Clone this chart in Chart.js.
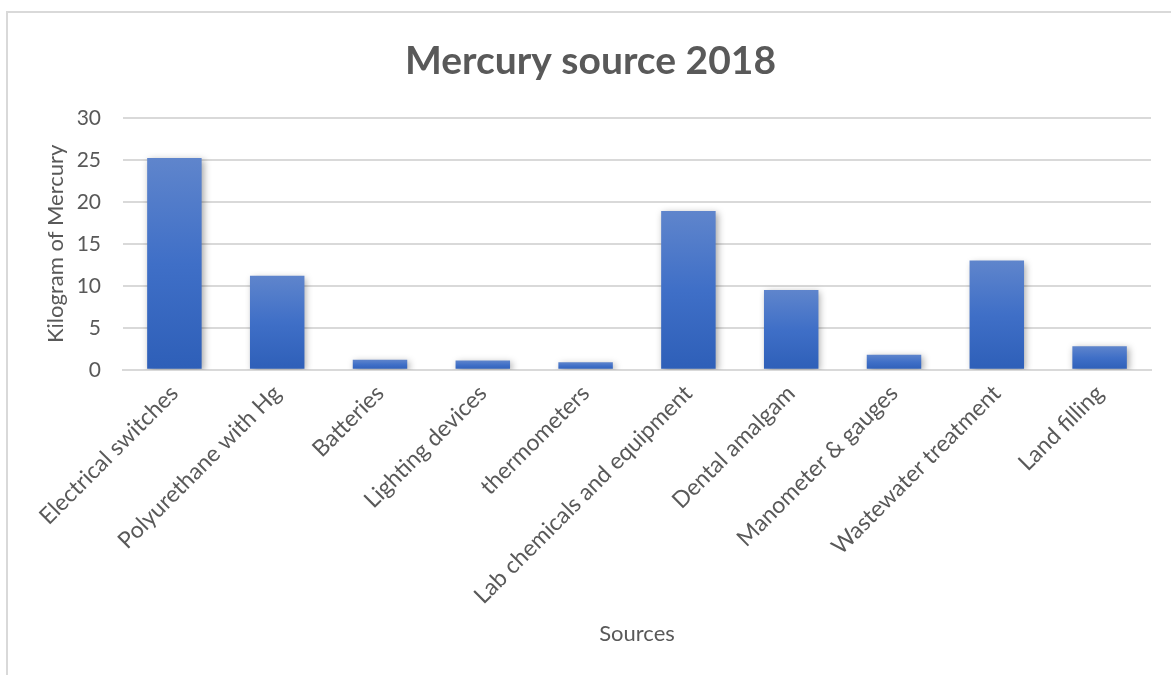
<!DOCTYPE html>
<html lang="en">
<head>
    <title>Mercury source 2018</title>
    <meta charset="utf-8">
    <script src="https://cdn.jsdelivr.net/npm/chart.js@4.4.0/dist/chart.umd.js"></script>
    <style>
        html, body { margin: 0; padding: 0; background: #fff; overflow: hidden; }
        #frame {
            position: absolute; left: 6px; top: 11px;
            width: 1200px; height: 700px;
            border: 2px solid #d9d9d9; box-sizing: border-box;
        }
        #wrap { position: absolute; left: 0; top: 0; width: 1171px; height: 675px; }
    </style>
</head>
<body>
    <div id="frame"></div>
    <div id="wrap"><canvas id="hgChart" width="1171" height="675"></canvas></div>

    <script>
        // Data
        const sources = [
            'Electrical switches', 'Polyurethane with Hg', 'Batteries', 'Lighting devices',
            'thermometers', 'Lab chemicals and equipment', 'Dental amalgam',
            'Manometer & gauges', 'Wastewater treatment', 'Land filling'
        ];
        const kgMercury = [25.2, 11.2, 1.2, 1.1, 0.9, 18.9, 9.5, 1.8, 13.0, 2.8];
        const yTicks = [0, 5, 10, 15, 20, 25, 30];

        const textColor = '#595959';
        const fontFamily = 'Lato, "Open Sans", sans-serif';

        // vertical gradient per bar, light at top, dark at bottom
        function barFill(context) {
            const chart = context.chart;
            const y = chart.scales.y;
            if (!chart.chartArea || !y || context.parsed === undefined) return '#4472C4';
            const top = y.getPixelForValue(context.parsed.y);
            const bottom = y.getPixelForValue(0);
            if (!isFinite(top) || !isFinite(bottom) || top === bottom) return '#4472C4';
            const g = chart.ctx.createLinearGradient(0, top, 0, bottom);
            g.addColorStop(0, '#5F85CC');
            g.addColorStop(0.5, '#3F6FC7');
            g.addColorStop(1, '#2E5FB8');
            return g;
        }

        // soft shadow behind the bars
        const barShadow = {
            id: 'barShadow',
            beforeDatasetsDraw(chart) {
                const c = chart.ctx;
                c.save();
                c.shadowColor = 'rgba(0,0,0,0.35)';
                c.shadowBlur = 7;
                c.shadowOffsetX = 2;
                c.shadowOffsetY = 2;
            },
            afterDatasetsDraw(chart) {
                chart.ctx.restore();
            }
        };

        const ctx = document.getElementById('hgChart').getContext('2d');
        new Chart(ctx, {
            type: 'bar',
            data: {
                labels: sources,
                datasets: [{
                    label: 'Kilogram of Mercury',
                    data: kgMercury,
                    backgroundColor: barFill,
                    borderWidth: 0,
                    categoryPercentage: 1.0,
                    barPercentage: 0.53
                }]
            },
            options: {
                responsive: false,
                animation: false,
                layout: { padding: { left: 30, right: 20, top: 22, bottom: 24 } },
                plugins: {
                    legend: { display: false },
                    tooltip: { enabled: false },
                    title: {
                        display: true,
                        text: 'Mercury source 2018',
                        color: textColor,
                        font: { family: fontFamily, size: 39, weight: 'bold' },
                        padding: { top: 16, bottom: 33 }
                    }
                },
                scales: {
                    x: {
                        grid: { display: false },
                        border: { color: '#d9d9d9', width: 2 },
                        ticks: {
                            color: textColor,
                            font: { family: fontFamily, size: 23 },
                            minRotation: 45,
                            maxRotation: 45,
                            padding: 2
                        },
                        title: {
                            display: true,
                            text: 'Sources',
                            color: textColor,
                            font: { family: fontFamily, size: 22 },
                            padding: { top: 9 }
                        }
                    },
                    y: {
                        min: 0,
                        max: 30,
                        afterBuildTicks(axis) { axis.ticks = yTicks.map(v => ({ value: v })); },
                        afterFit(axis) { axis.width = 93; },
                        grid: { color: '#d9d9d9', lineWidth: 2, drawTicks: false },
                        border: { display: false },
                        ticks: {
                            color: textColor,
                            font: { family: fontFamily, size: 21 },
                            padding: 22
                        },
                        title: {
                            display: true,
                            text: 'Kilogram of Mercury',
                            color: textColor,
                            font: { family: fontFamily, size: 22 },
                            padding: { top: 13, bottom: 0 }
                        }
                    }
                }
            },
            plugins: [barShadow]
        });
    </script>
</body>
</html>
